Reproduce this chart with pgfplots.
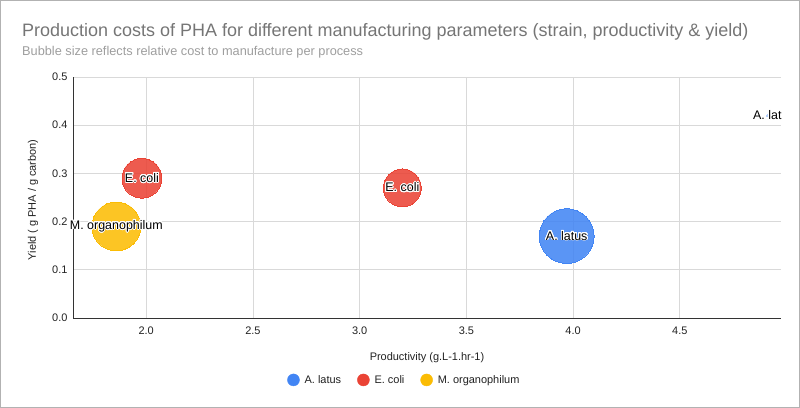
\documentclass[border=0pt]{standalone}
\usepackage{pgfplots}
\pgfplotsset{compat=1.18}
\usepackage{fontspec}
\setmainfont{Liberation Sans}
\usepackage{contour}
\contourlength{0.9bp}
\contournumber{24}
\definecolor{gblue}{HTML}{4285F4}
\definecolor{gred}{HTML}{EA4335}
\definecolor{gyellow}{HTML}{FBBC04}
\definecolor{titlegray}{HTML}{757575}
\definecolor{subgray}{HTML}{9E9E9E}
\definecolor{gridgray}{HTML}{D9D9D9}
\definecolor{ticktext}{HTML}{222222}

\pgfplotsset{
  bubble/.style 2 args={only marks, mark=*, mark size=#2, color=#1,
    mark options={draw=none, fill=#1, fill opacity=0.87, line width=0pt},
    point meta=explicit symbolic,
    nodes near coords={\contour{white}{\pgfplotspointmeta}},
    legend image code/.code={\fill[#1] (0bp,0bp) circle (6bp);}},
}

\begin{document}
\begin{tikzpicture}
\draw[draw=gray!60, line width=1bp] (0.5bp,0.5bp) rectangle (799.5bp,407.5bp);
\node[anchor=base west, text=titlegray, font=\fontsize{18.05}{22}\selectfont, inner sep=0] at (22bp,371bp) {Production costs of PHA for different manufacturing parameters (strain, productivity \& yield)};
\node[anchor=base west, text=subgray, font=\fontsize{12.8}{15}\selectfont, inner sep=0] at (22bp,352bp) {Bubble size reflects relative cost to manufacture per process};
\begin{axis}[
  at={(73bp,90bp)}, anchor=south west,
  scale only axis, width=708bp, height=241bp,
  xmin=1.657, xmax=4.974, ymin=0, ymax=0.5,
  xtick={2.0,2.5,3.0,3.5,4.0,4.5},
  ytick={0,0.1,0.2,0.3,0.4,0.5},
  /pgf/number format/fixed,
  /pgf/number format/fixed zerofill,
  /pgf/number format/precision=1,
  /pgf/number format/assume math mode=true,
  ticklabel style={font=\fontsize{11}{13}\selectfont, text=ticktext},
  xticklabel style={yshift=-5bp},
  yticklabel style={xshift=-2bp},
  major tick length=0pt,
  grid=major, major grid style={gridgray, line width=0.8bp},
  axis x line*=bottom, axis y line*=left,
  axis line style={-, black!80, line width=1bp},
  xlabel={Productivity (g.L-1.hr-1)},
  ylabel={Yield ( g PHA / g carbon)},
  label style={font=\fontsize{11}{13}\selectfont, text=ticktext},
  xlabel style={at={(axis description cs:0.5,-0.165)}, anchor=center},
  ylabel style={at={(axis description cs:-0.0565,0.49)}, anchor=center},
  legend columns=3,
  legend style={at={(axis description cs:0.468,-0.257)}, anchor=center, draw=none,
    font=\fontsize{11}{13}\selectfont, text=ticktext,
    /tikz/every even column/.append style={column sep=14bp},
    /tikz/every odd column/.append style={column sep=3bp}},
  every node near coord/.style={anchor=center, font=\fontsize{12.5}{15}\selectfont, text=black, fill=none, draw=none, inner sep=0, fill opacity=1, text opacity=1},
]
\addplot[bubble={gblue}{27.5}] coordinates {(3.97,0.17) [A. latus]};
\addlegendentry{A. latus}
\addplot[bubble={gred}{20}] coordinates {(1.98,0.29) [E. coli]};
\addlegendentry{E. coli}
\addplot[bubble={gyellow}{24.5}] coordinates {(1.86,0.19) [M. organophilum]};
\addlegendentry{M. organophilum}
\addplot[bubble={gred}{19}, forget plot] coordinates {(3.20,0.27) [E. coli]};
\addplot[bubble={gblue!40}{1.2}, forget plot] coordinates {(4.91,0.42) [A. lat]};
\end{axis}
\end{tikzpicture}
\end{document}
